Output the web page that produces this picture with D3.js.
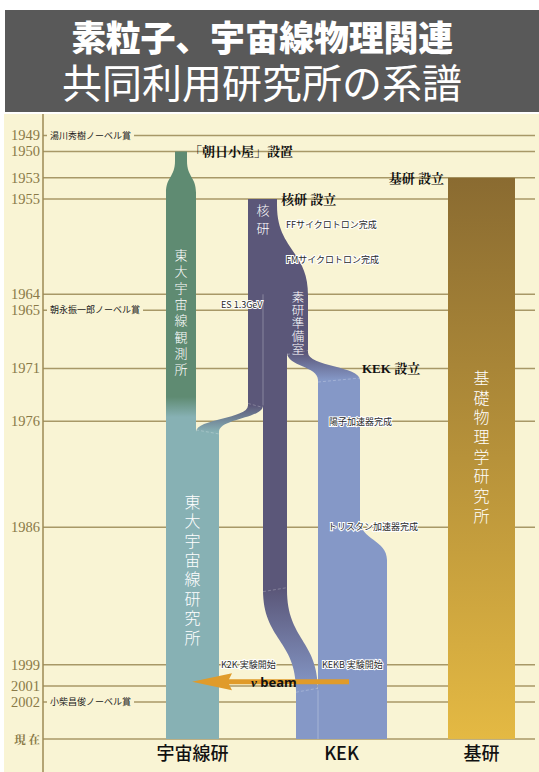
<!DOCTYPE html>
<html>
<head>
<meta charset="utf-8">
<script src="https://cdn.jsdelivr.net/npm/d3@7"></script>
<style>
  body { margin: 0; background: #fff; }
</style>
</head>
<body>
<div id="chart"></div>
<script>
// ---- data ----
const titleLines = ["素粒子、宇宙線物理関連", "共同利用研究所の系譜"];
const tickYears = [1949, 1950, 1953, 1955, 1964, 1965, 1971, 1976, 1986, 1999, 2001, 2002];
const nowYear = 2006;
const nowLabel = "現 在";
const nobelYears = [1949, 1965, 2002];
const nobelLabels = ["湯川秀樹ノーベル賞", "朝永振一郎ノーベル賞", "小柴昌俊ノーベル賞"];
const foundYears = [1950, 1955, 1953, 1971];
const foundLabels = ["「朝日小屋」設置", "核研 設立", "基研 設立", "KEK 設立"];
const eventYears = [1957.4, 1960.7, 1965, 1976, 1986, 1999, 1999];
const eventLabels = ["FFサイクロトロン完成", "FMサイクロトロン完成", "ES 1.3GeV", "陽子加速器完成",
    "トリスタン加速器完成", "K2K 実験開始", "KEKB 実験開始"];
const columnNames = ["宇宙線研", "KEK", "基研"];
const barNames = ["東大宇宙線観測所", "東大宇宙線研究所", "核研", "素研準備室", "基礎物理学研究所"];
const barNameYears = [1960.3, 1983.6, 1956.0, 1964.3, 1971.9];
const beamYear = 2000.6;
const beamLabel = "beam";
// transitions (years)
const neckYears = [1951.4, 1954.4];
const cosmicColorYears = [1973.7, 1975.6];
const flareYears = [1955.6, 1964];
const toCosmicYears = [1974.5, 1977];
const sokenToKekYears = [1969.5, 1972.1];
const kekWidenYears = [1985.3, 1989.1];
const kakukenToKekYears = [1991.9, 2001.4];

// ---- layout ----
const W = 539, H = 772;
const axisX = 43, lineEnd = 535;
const L = {
    neck: [175, 187], cosmic: [166, 196], laneAJoin: [196, 219],
    kakuTop: [248, 277], kakuFlare: 308,
    laneA: [248, 263], main: [263, 287], soken: [287, 308],
    kekTop: [318, 360], kekWide: 387, mainJoin: [296, 318],
    kiken: [448, 515]
};
const eventX = [286, 286, 221, 329, 328, 221, 322];
const foundX = [189, 281, 444, 362];
const foundAnchor = ["start", "start", "end", "start"];
const barNameX = [181, 192.5, 263, 298, 481.5];
const barNameSize = [13, 16, 13, 12.5, 16];
const barNameStep = [16.3, 19.4, 18, 13, 19.7];

const c = {
    bg: "#f9f4d4", title: "#595959", grid: "#a89867", axis: "#9d8a55", year: "#8a7a48",
    green: "#5f8b72", teal: "#87b1b4", purple: "#5b5779", blue: "#8598c7",
    kikenTop: "#8a6b31", kikenBottom: "#e4b943", arrow: "#e09b2a"
};

const y = d3.scaleLinear().domain([1955, 2001]).range([199, 686]);
// spread crowded tick lines apart a little, like the original drawing
const tickY = [];
tickYears.forEach((t, i) => {
    let v = y(t);
    if (i > 0 && v - tickY[i - 1] < 16) v = tickY[i - 1] + 16;
    tickY.push(v);
});
function yy(t) {
    const i = tickYears.indexOf(t);
    return i >= 0 ? tickY[i] : y(t);
}

const svg = d3.select("#chart").append("svg")
    .attr("width", W).attr("height", H)
    .style("display", "block");

const defs = svg.append("defs");
function vGrad(id, t0, t1, c0, c1) {
    const g = defs.append("linearGradient").attr("id", id)
        .attr("gradientUnits", "userSpaceOnUse")
        .attr("x1", 0).attr("x2", 0).attr("y1", yy(t0)).attr("y2", yy(t1));
    g.append("stop").attr("offset", 0).attr("stop-color", c0);
    g.append("stop").attr("offset", 1).attr("stop-color", c1);
}
vGrad("gCosmic", cosmicColorYears[0], cosmicColorYears[1], c.green, c.teal);
vGrad("gLaneA", toCosmicYears[0], toCosmicYears[1], c.purple, c.teal);
vGrad("gSoken", sokenToKekYears[0], sokenToKekYears[1], c.purple, c.blue);
vGrad("gMain", kakukenToKekYears[0], kakukenToKekYears[1], c.purple, c.blue);
vGrad("gKiken", 1953, nowYear, c.kikenTop, c.kikenBottom);

// background
svg.append("rect").attr("x", 4).attr("y", 114).attr("width", W - 4).attr("height", H - 114)
    .attr("fill", c.bg);
svg.append("rect").attr("x", 5).attr("y", 10).attr("width", W - 5).attr("height", 102)
    .attr("fill", c.title);
// title: one text block, two lines
svg.append("text")
    .attr("class", "title")
    .attr("text-anchor", "middle")
    .attr("fill", "#fff")
    .style("font-family", "'Noto Sans CJK JP'")
    .selectAll("tspan").data(titleLines).enter().append("tspan")
    .attr("x", 262)
    .attr("y", (d, i) => i == 0 ? 51 : 98)
    .style("font-size", (d, i) => i == 0 ? "35px" : "40px")
    .style("font-weight", (d, i) => i == 0 ? 900 : 400)
    .style("letter-spacing", (d, i) => i == 0 ? "-0.3px" : "0px")
    .text(d => d);

// grid lines + axis
const allTicks = tickYears.concat([nowYear]);
svg.selectAll(".grid").data(allTicks).enter().append("line")
    .attr("class", "grid")
    .attr("x1", axisX).attr("x2", lineEnd)
    .attr("y1", d => yy(d)).attr("y2", d => yy(d))
    .attr("stroke", c.grid).attr("stroke-width", 1.5);
svg.append("line").attr("x1", axisX).attr("x2", axisX).attr("y1", 114).attr("y2", H)
    .attr("stroke", c.axis).attr("stroke-width", 1.5);

svg.selectAll(".yearLabel").data(allTicks).enter().append("text")
    .attr("class", "yearLabel")
    .attr("x", 40)
    .attr("y", d => yy(d) + 5)
    .attr("text-anchor", "end")
    .attr("fill", c.year)
    .style("font-family", "'Liberation Serif', 'Noto Serif CJK JP', serif")
    .style("font-size", d => d == nowYear ? "11.5px" : "14.5px")
    .style("font-weight", d => d == nowYear ? 700 : 400)
    .text(d => d == nowYear ? nowLabel : d);

// nobel labels with cream patch behind them
const nobel = svg.selectAll(".nobel").data(nobelYears).enter().append("g").attr("class", "nobel");
nobel.append("rect").attr("class", "nobelBg");
nobel.append("text")
    .attr("x", 50).attr("y", d => yy(d) + 3.2)
    .attr("fill", "#222")
    .style("font-family", "'Noto Sans CJK JP'")
    .style("font-size", "9px")
    .text((d, i) => nobelLabels[i]);
nobel.each(function (d) {
    const g = d3.select(this);
    const w = g.select("text").node().getComputedTextLength();
    g.select("rect").attr("x", 47).attr("y", yy(d) - 6).attr("width", w + 6).attr("height", 12)
        .attr("fill", c.bg);
});
nobel.select("text").raise();

// ---- streams ----
function lanePath(pts) {
    const p = d3.path();
    const Y = pts.map(d => yy(d.t));
    const n = pts.length;
    p.moveTo(pts[0].l, Y[0]);
    for (let i = 1; i < n; i++) {
        const a = pts[i - 1], b = pts[i];
        if (a.l === b.l) p.lineTo(b.l, Y[i]);
        else { const m = (Y[i - 1] + Y[i]) / 2; p.bezierCurveTo(a.l, m, b.l, m, b.l, Y[i]); }
    }
    p.lineTo(pts[n - 1].r, Y[n - 1]);
    for (let i = n - 1; i > 0; i--) {
        const a = pts[i], b = pts[i - 1];
        if (a.r === b.r) p.lineTo(b.r, Y[i - 1]);
        else { const m = (Y[i] + Y[i - 1]) / 2; p.bezierCurveTo(a.r, m, b.r, m, b.r, Y[i - 1]); }
    }
    p.closePath();
    return p.toString();
}
function pt(t, lr) { return { t: t, l: lr[0], r: lr[1] }; }

const lanes = [
    { fill: "url(#gCosmic)", pts: [pt(1950, L.neck), pt(neckYears[0], L.neck), pt(neckYears[1], L.cosmic), pt(nowYear, L.cosmic)] },
    { fill: c.purple, pts: [pt(1955, L.kakuTop), pt(flareYears[0], L.kakuTop), pt(flareYears[1] + 0.1, [L.kakuTop[0], L.kakuFlare])] },
    { fill: "url(#gLaneA)", pts: [pt(1964, L.laneA), pt(toCosmicYears[0], L.laneA), pt(toCosmicYears[1], L.laneAJoin), pt(nowYear, L.laneAJoin)] },
    { fill: "url(#gSoken)", pts: [pt(1964, L.soken), pt(sokenToKekYears[0], L.soken), pt(sokenToKekYears[1], L.kekTop),
        pt(kekWidenYears[0], L.kekTop), pt(kekWidenYears[1], [L.kekTop[0], L.kekWide]), pt(nowYear, [L.kekTop[0], L.kekWide])] },
    { fill: "url(#gMain)", pts: [pt(1964, L.main), pt(kakukenToKekYears[0], L.main), pt(kakukenToKekYears[1], L.mainJoin), pt(nowYear, L.mainJoin)] }
];
svg.selectAll(".lane").data(lanes).enter().append("path")
    .attr("class", "lane")
    .attr("d", d => lanePath(d.pts))
    .attr("fill", d => d.fill);

svg.append("rect").attr("x", L.kiken[0]).attr("y", yy(1953))
    .attr("width", L.kiken[1] - L.kiken[0]).attr("height", yy(nowYear) - yy(1953))
    .attr("fill", "url(#gKiken)");

// faint seams between merged lanes
const seams = [
    [L.main[0], 1964, toCosmicYears[0]],
    [L.mainJoin[1], kakukenToKekYears[1], nowYear]
];
svg.selectAll(".seam").data(seams).enter().append("line")
    .attr("x1", d => d[0]).attr("x2", d => d[0])
    .attr("y1", d => yy(d[1])).attr("y2", d => yy(d[2]))
    .attr("stroke", "rgba(255,255,255,0.35)").attr("stroke-width", 0.8);
const joins = [
    [L.laneA, toCosmicYears[0], 1], [L.laneAJoin, toCosmicYears[1], 1],
    [L.soken, sokenToKekYears[0], -1], [L.kekTop, sokenToKekYears[1], -1],
    [L.main, kakukenToKekYears[0], -1], [L.mainJoin, kakukenToKekYears[1], -1]
];
svg.selectAll(".join").data(joins).enter().append("line")
    .attr("x1", d => d[0][0]).attr("x2", d => d[0][1])
    .attr("y1", d => yy(d[1]) - 2 * d[2]).attr("y2", d => yy(d[1]) + 2 * d[2])
    .attr("stroke", "rgba(255,255,255,0.3)").attr("stroke-width", 0.8)
    .attr("stroke-dasharray", "3,2");

// vertical names inside the streams (one vertical text each)
svg.selectAll(".barName").data(barNames).enter().append("text")
    .attr("class", "barName")
    .attr("x", (d, k) => barNameX[k])
    .attr("y", (d, k) => yy(barNameYears[k]) - barNameSize[k] / 2)
    .attr("fill", "#fff")
    .style("writing-mode", "vertical-rl")
    .style("font-family", "'Noto Sans CJK JP'")
    .style("font-size", (d, k) => barNameSize[k] + "px")
    .style("letter-spacing", (d, k) => (barNameStep[k] - barNameSize[k]) + "px")
    .style("font-weight", 300)
    .text(d => d);

// founding labels
svg.selectAll(".found").data(foundYears).enter().append("text")
    .attr("class", "found")
    .attr("x", (d, i) => foundX[i])
    .attr("y", d => yy(d) + 5)
    .attr("text-anchor", (d, i) => foundAnchor[i])
    .attr("fill", "#111")
    .style("font-family", "'Liberation Serif', 'Noto Serif CJK JP', 'Noto Sans CJK JP', serif")
    .style("font-size", "13px")
    .style("font-weight", 700)
    .text((d, i) => foundLabels[i]);

// event labels (outlined)
svg.selectAll(".event").data(eventYears).enter().append("text")
    .attr("class", "event")
    .attr("x", (d, i) => eventX[i])
    .attr("y", d => y(d) + 3.3)
    .attr("fill", "#2a2a2a")
    .attr("stroke", "#fff")
    .attr("stroke-width", 2)
    .attr("paint-order", "stroke")
    .style("font-family", "'Noto Sans CJK JP'")
    .style("font-size", "9px")
    .text((d, i) => eventLabels[i]);

// neutrino beam arrow
const ay = y(beamYear), ax0 = 192, ax1 = 349;
const ap = d3.path();
ap.moveTo(ax0, ay);
ap.lineTo(ax0 + 40, ay - 8.5);
ap.lineTo(ax0 + 37, ay - 2.6);
ap.lineTo(ax1, ay - 2.6);
ap.lineTo(ax1, ay + 2.6);
ap.lineTo(ax0 + 37, ay + 2.6);
ap.lineTo(ax0 + 40, ay + 8.5);
ap.closePath();
svg.append("path").attr("d", ap.toString()).attr("fill", c.arrow);
const bt = svg.append("text")
    .attr("x", 251).attr("y", ay + 5)
    .attr("fill", "#111")
    .style("font-family", "'Noto Sans', sans-serif")
    .style("font-size", "13px")
    .style("font-weight", 700);
bt.append("tspan").style("font-style", "italic").style("font-family", "'Liberation Serif', serif").text("ν");
bt.append("tspan").text(" " + beamLabel);

// column names at bottom
const colX = [(L.cosmic[0] + L.laneAJoin[1]) / 2, (L.mainJoin[0] + L.kekWide) / 2, (L.kiken[0] + L.kiken[1]) / 2];
svg.selectAll(".colName").data(columnNames).enter().append("text")
    .attr("class", "colName")
    .attr("x", (d, i) => colX[i])
    .attr("y", 760)
    .attr("text-anchor", "middle")
    .attr("fill", "#111")
    .style("font-family", "'Noto Sans CJK JP'")
    .style("font-size", "18px")
    .style("font-weight", 500)
    .text(d => d);
</script>
</body>
</html>
